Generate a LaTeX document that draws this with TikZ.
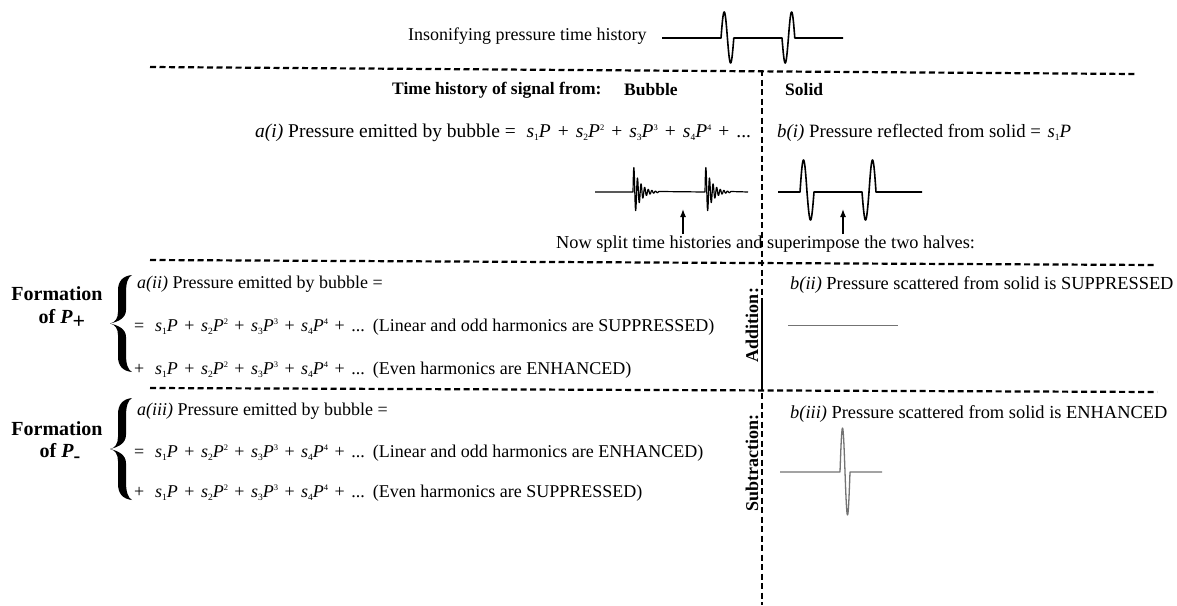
\documentclass[tikz,border=0pt]{standalone}
\usepackage{fontspec}
\setmainfont{Liberation Serif}
\usetikzlibrary{arrows.meta}
\newcommand\spterm[2]{\textit{s}\raisebox{-0.35ex}{\fontsize{9.5}{9.5}\selectfont #1}\textit{P}\raisebox{0.8ex}{\fontsize{8.5}{8.5}\selectfont #2}}
\newcommand\plusgap{\hspace{0.36em}+\hspace{0.36em}}
\newcommand\bubbleseries{\spterm{1}{}\plusgap\spterm{2}{2}\plusgap\spterm{3}{3}\plusgap\spterm{4}{4}\plusgap...}
\tikzset{
  bigbrace/.pic={
    \fill (22,0) .. controls (13,1) and (8,6) .. (8,16) -- (8,38) .. controls (8,45) and (5,49) .. (0,50)
      .. controls (9,48) and (16,44) .. (16,36) -- (16,18) .. controls (16,8) and (18,2) .. (22,0) -- cycle;
    \fill (22,100) .. controls (13,99) and (8,94) .. (8,84) -- (8,62) .. controls (8,55) and (5,51) .. (0,50)
      .. controls (9,52) and (16,56) .. (16,64) -- (16,82) .. controls (16,92) and (18,98) .. (22,100) -- cycle;
  }
}
\begin{document}
\begin{tikzpicture}[x=1pt,y=-1pt,
  every node/.style={font=\fontsize{18}{21}\selectfont, inner sep=0pt, anchor=west},
  big/.style={font=\fontsize{19.5}{23}\selectfont},
  hd/.style={font=\fontsize{17.5}{21}\selectfont\bfseries},
  fm/.style={font=\fontsize{20}{23}\selectfont\bfseries, anchor=center},
  side/.style={font=\fontsize{18}{21}\selectfont\bfseries, rotate=90, anchor=center},
  dline/.style={line width=2.2pt, dash pattern=on 6pt off 3.5pt},
  wave/.style={line width=1.6pt, line join=round},
  thinwave/.style={line width=1.3pt, draw=black!55, line join=round},
  arr/.style={-{Latex[length=8pt,width=6pt]}, line width=1.3pt}]
\fill[white] (0,0) rectangle (1177,605);
\useasboundingbox (0,0) rectangle (1177,605);

% dashed frame lines
\coordinate (h1a) at (150,67); \coordinate (h1b) at (1135,74);
\coordinate (h2a) at (150,260); \coordinate (h2b) at (1155,265);
\coordinate (h3a) at (150,388); \coordinate (h3b) at (1157,392);
\coordinate (v1a) at (762,70); \coordinate (v1b) at (762,605);
\coordinate (s1a) at (762,302); \coordinate (s1b) at (762,388);
\draw[dline] (h1a) -- (h1b);
\draw[dline] (h2a) -- (h2b);
\draw[dline] (h3a) -- (h3b);
\draw[dline] (v1a) -- (v1b);
\draw[line width=2pt] (s1a) -- (s1b);

% insonifying
\node (ins) at (408,36) {Insonifying pressure time history};
\draw[wave] (662,38) -- (721,38) sin (724.2,12) cos (727.4,38) sin (730.6,63) cos (733.8,38)
  -- (782,38) sin (785.2,63) cos (788.4,38) sin (791.6,12) cos (794.8,38) -- (843,38);

% header
\node[hd] (hdr) at (392,90) {Time history of signal from:};
\node[hd] (bub) at (624,90) {Bubble};
\node[hd] (sol) at (785,90) {Solid};

% row (i)
\node[big] (ai) at (255,133) {\textit{a(i)} Pressure emitted by bubble =\hspace{0.55em}\bubbleseries};
\node[font=\fontsize{18.8}{22}\selectfont] (bi) at (777,133) {\textit{b(i)} Pressure reflected from solid =\hspace{0.35em}\spterm{1}{}};

\draw[wave, line width=1.2pt] (595,192) -- (633,192)
  -- plot[domain=0:26, samples=150] ({633+\x},{192-28*exp(-\x/6.5)*sin(100*\x)})
  -- (705,192)
  -- plot[domain=0:26, samples=150] ({705+\x},{192-28*exp(-\x/6.5)*sin(100*\x)})
  -- (748,192);
\draw[wave] (778,192) -- (800,192) sin (803.5,160) cos (807,192) sin (810.5,220) cos (814,192)
  -- (862,192) sin (865.5,220) cos (869,192) sin (872.5,160) cos (876,192) -- (922,192);

\coordinate (ar1s) at (683,234); \coordinate (ar1e) at (683,209);
\coordinate (ar2s) at (843,234); \coordinate (ar2e) at (843,209);
\draw[arr] (ar1s) -- (ar1e);
\draw[arr] (ar2s) -- (ar2e);

\node[font=\fontsize{18.3}{21}\selectfont] (split) at (556,244) {Now split time histories and superimpose the two halves:};

% addition block
\path (110,275) pic[yscale=0.97] {bigbrace};
\node[fm] (f1) at (57,294) {Formation};
\node[fm] (p1) at (62,319) {of \textit{P}\raisebox{-0.55ex}{\fontsize{22}{22}\selectfont +}};
\node (aii) at (137,284) {\textit{a(ii)} Pressure emitted by bubble =};
\node (aii2) at (134,327) {=\hspace{0.6em}\bubbleseries\hspace{0.45em}(Linear and odd harmonics are SUPPRESSED)};
\node (aii3) at (134,370) {+\hspace{0.6em}\bubbleseries\hspace{0.45em}(Even harmonics are ENHANCED)};
\node[side] (add) at (752,325) {Addition:};
\node[font=\fontsize{18.4}{21}\selectfont] (bii) at (790,285) {\textit{b(ii)} Pressure scattered from solid is SUPPRESSED};
\coordinate (gl1) at (788,325); \coordinate (gl2) at (898,325);
\draw[thinwave, line width=1pt] (gl1) -- (gl2);

% subtraction block
\path (110,398) pic[yscale=1.02] {bigbrace};
\node[fm] (f2) at (57,429) {Formation};
\node[fm] (p2) at (60,453) {of \textit{P}\raisebox{-0.6ex}{-}};
\node (aiii) at (137,411) {\textit{a(iii)} Pressure emitted by bubble =};
\node (aiii2) at (134,453) {=\hspace{0.6em}\bubbleseries\hspace{0.45em}(Linear and odd harmonics are ENHANCED)};
\node (aiii3) at (134,493) {+\hspace{0.6em}\bubbleseries\hspace{0.45em}(Even harmonics are SUPPRESSED)};
\node[side] (sub) at (752,463) {Subtraction:};
\node[font=\fontsize{18.4}{21}\selectfont] (biii) at (790,414) {\textit{b(iii)} Pressure scattered from solid is ENHANCED};
\draw[thinwave] (780,472) -- (840,472) sin (842.5,428) cos (845,472) sin (847.5,515) cos (850,472) -- (882,472);
\end{tikzpicture}
\end{document}
